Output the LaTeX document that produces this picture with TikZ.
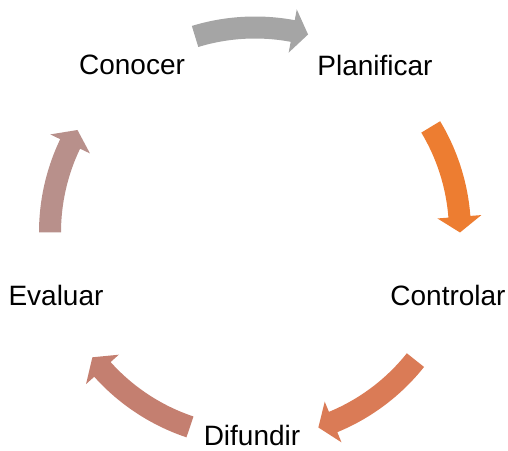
\documentclass[tikz,border=0pt]{standalone}
\usepackage{fontspec}
\setmainfont{Liberation Sans}
\definecolor{cgray}{HTML}{A5A5A5}
\definecolor{corange}{HTML}{ED7D31}
\definecolor{cdorange}{HTML}{DA7B56}
\definecolor{csalmon}{HTML}{C47F70}
\definecolor{cmauve}{HTML}{B8908B}
% #1 colour, #2 tail angle, #3 tip angle (clockwise arrow on the cycle)
\newcommand{\cycarrow}[3]{%
  \pgfmathsetmacro{\hb}{#3+4.4}%
  \fill[#1] (#2:216pt) arc[start angle=#2, end angle=\hb, radius=216pt]
    -- (\hb:227pt) -- (#3:205pt) -- (\hb:183pt) -- (\hb:194pt)
    arc[start angle=\hb, end angle=#2, radius=194pt] -- cycle;}
\begin{document}
\begin{tikzpicture}[x=1pt,y=1pt,
  lbl/.style={font=\fontsize{28pt}{34pt}\selectfont, inner sep=0pt, anchor=base, text=black}]
\useasboundingbox (0,0) rectangle (508,450);
\node[lbl] (conocer)    at (132,375) {Conocer};
\node[lbl] (planificar) at (375,374) {Planificar};
\node[lbl] (controlar)  at (448,145) {Controlar};
\node[lbl] (difundir)   at (252,4.5) {Difundir};
\node[lbl] (evaluar)    at (56,145)  {Evaluar};
\begin{scope}[shift={(255,217.5)}]
  \cycarrow{cgray}{107}{75}
  \cycarrow{corange}{31}{0}
  \cycarrow{cdorange}{-38.5}{-72}
  \cycarrow{csalmon}{-108.5}{-142.5}
  \cycarrow{cmauve}{180}{150}
\end{scope}
\end{tikzpicture}
\end{document}
